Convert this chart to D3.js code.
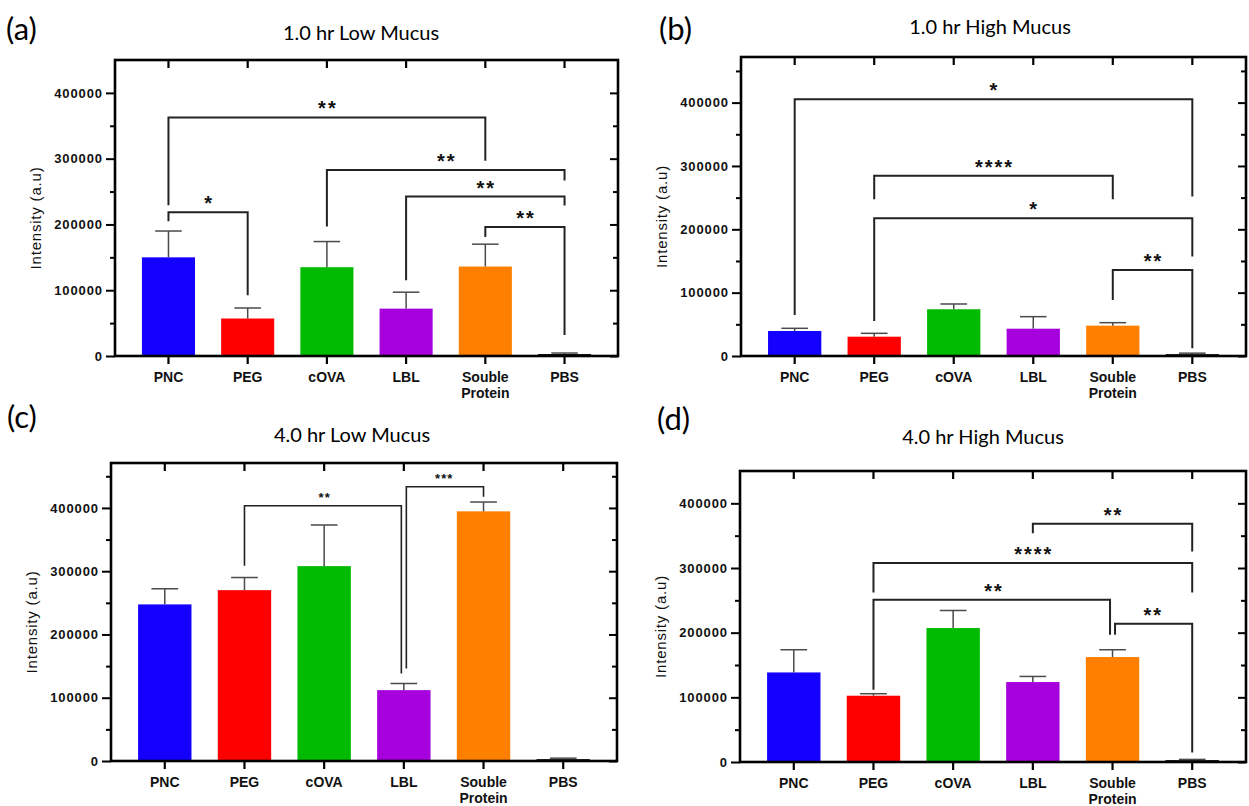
<!DOCTYPE html>
<html>
<head>
<meta charset="utf-8">
<script src="https://cdn.jsdelivr.net/npm/d3@7"></script>
<style>
  body { margin: 0; background: #fff; }
</style>
</head>
<body>
<script>
const categories = ["PNC", "PEG", "cOVA", "LBL", "Souble Protein", "PBS"]
const panelTags = ["(a)", "(b)", "(c)", "(d)"]
const panelTitles = ["1.0 hr Low Mucus", "1.0 hr High Mucus", "4.0 hr Low Mucus", "4.0 hr High Mucus"]
const majorTicks = [0, 100000, 200000, 300000, 400000]

// bar means and SD (upper error only)
const meansA = [150000, 57000, 135000, 72000, 136000, 3000]
const sdA = [40000, 16000, 39000, 25000, 34000, 1500]
const meansB = [39500, 30500, 73800, 43100, 47900, 3000]
const sdB = [4200, 5300, 8300, 19000, 4700, 1500]
const meansC = [247500, 270000, 308000, 112000, 394600, 3000]
const sdC = [24700, 20000, 65000, 10500, 14700, 1500]
const meansD = [138500, 102500, 207100, 123600, 162300, 3000]
const sdD = [35100, 3100, 27200, 8700, 11300, 1000]

// axis tops
const yMaxes = [450000, 472000, 471000, 450000]

// significance brackets: from / to category index, bar height, left & right leg ends
const bracketsA = [
  { from: 0, to: 4, y: 362600, yFrom: 229000, yTo: 297000, label: "**" },
  { from: 2, to: 5, y: 282800, yFrom: 197000, yTo: 266700, label: "**" },
  { from: 3, to: 5, y: 242400, yFrom: 115000, yTo: 228800, label: "**" },
  { from: 4, to: 5, y: 196000, yFrom: 180800, yTo: 31800, label: "**" },
  { from: 0, to: 1, y: 218600, yFrom: 205000, yTo: 92400, label: "*" }
]
const bracketsB = [
  { from: 0, to: 5, y: 405500, yFrom: 64800, yTo: 251700, label: "*" },
  { from: 1, to: 4, y: 284400, yFrom: 247600, yTo: 247600, label: "****" },
  { from: 1, to: 5, y: 217500, yFrom: 55300, yTo: 156900, label: "*" },
  { from: 4, to: 5, y: 135900, yFrom: 88500, yTo: 12200, label: "**" }
]
const bracketsC = [
  { from: 1, to: 3, y: 403500, yFrom: 308500, yTo: 138300, label: "**" },
  { from: 3, to: 4, y: 433500, yFrom: 146200, yTo: 417700, label: "***" }
]
const bracketsD = [
  { from: 3, to: 5, y: 368300, yFrom: 353900, yTo: 325500, label: "**" },
  { from: 1, to: 5, y: 307600, yFrom: 262100, yTo: 262100, label: "****" },
  { from: 1, to: 4, y: 250900, yFrom: 111700, yTo: 196800, label: "**" },
  { from: 4, to: 5, y: 213800, yFrom: 196800, yTo: 14800, label: "**" }
]

const barColors = ["#1400ff", "#ff0000", "#00bb00", "#a600dc", "#ff7f00", "#111111"]
const sansBold = "'Liberation Sans', Arial, sans-serif"

// frame boxes for each panel (pixels)
const layout = [
  { left: 115, right: 618, top: 60, bottom: 356, tagX: 6, tagY: 40, titleX: 361, titleY: 40, starSize: 20, starGap: 2 },
  { left: 741, right: 1246, top: 57, bottom: 356, tagX: 659, tagY: 40, titleX: 990, titleY: 34, starSize: 20, starGap: 2 },
  { left: 111, right: 617, top: 463, bottom: 761, tagX: 7, tagY: 428, titleX: 352, titleY: 442, starSize: 13, starGap: 1 },
  { left: 740, right: 1246, top: 471, bottom: 762, tagX: 657, tagY: 430, titleX: 983, titleY: 444, starSize: 20, starGap: 2 }
]

const panels = [
  { means: meansA, sd: sdA, brackets: bracketsA },
  { means: meansB, sd: sdB, brackets: bracketsB },
  { means: meansC, sd: sdC, brackets: bracketsC },
  { means: meansD, sd: sdD, brackets: bracketsD }
].map((p, i) => ({ ...p, tag: panelTags[i], title: panelTitles[i], yMax: yMaxes[i], box: layout[i] }))

const svg = d3.select("body").append("svg")
    .attr("width", 1249)
    .attr("height", 806)
    .style("font-family", sansBold)

svg.append("rect")
    .attr("width", 1249)
    .attr("height", 806)
    .attr("fill", "#fff")

const drawPanel = p => {
  const b = p.box
  const g = svg.append("g")

  const xScale = d3.scaleBand()
    .domain(categories)
    .range([b.left, b.right])
    .paddingInner(0.33)
    .paddingOuter(0.34)

  const yScale = d3.scaleLinear()
    .domain([0, p.yMax])
    .range([b.bottom, b.top])

  const cx = i => xScale(categories[i]) + xScale.bandwidth() / 2
  const minorTicks = d3.range(50000, p.yMax, 100000)

  // panel tag + title
  g.append("text")
      .attr("x", b.tagX)
      .attr("y", b.tagY)
      .style("font-family", "Lato, 'Open Sans', sans-serif")
      .style("font-size", "31px")
      .text(p.tag)

  g.append("text")
      .attr("x", b.titleX)
      .attr("y", b.titleY)
      .attr("text-anchor", "middle")
      .style("font-family", "Lato, 'Open Sans', sans-serif")
      .style("font-size", "20px")
      .text(p.title)

  // bars
  g.selectAll(".bar")
    .data(p.means)
    .join("rect")
      .attr("class", "bar")
      .attr("x", (d, i) => xScale(categories[i]))
      .attr("y", d => yScale(d))
      .attr("width", xScale.bandwidth())
      .attr("height", d => b.bottom - yScale(d))
      .attr("fill", (d, i) => barColors[i])

  // error bars
  const errs = g.selectAll(".err")
    .data(p.means)
    .join("g")
      .attr("class", "err")
      .attr("stroke", "#4a4a4a")
      .attr("stroke-width", 1.5)
  errs.append("line")
      .attr("x1", (d, i) => cx(i))
      .attr("x2", (d, i) => cx(i))
      .attr("y1", d => yScale(d))
      .attr("y2", (d, i) => yScale(d + p.sd[i]))
  errs.append("line")
      .attr("x1", (d, i) => cx(i) - xScale.bandwidth() / 4)
      .attr("x2", (d, i) => cx(i) + xScale.bandwidth() / 4)
      .attr("y1", (d, i) => yScale(d + p.sd[i]))
      .attr("y2", (d, i) => yScale(d + p.sd[i]))

  // left axis
  g.append("g")
      .attr("transform", `translate(${b.left},0)`)
      .call(d3.axisLeft(yScale).tickValues(majorTicks).tickSize(9).tickPadding(3).tickFormat(d3.format("d")))
      .call(a => a.select(".domain").remove())
      .call(a => a.selectAll(".tick line").attr("stroke-width", 2))
      .call(a => a.selectAll("text")
        .style("font-family", sansBold)
        .style("font-size", "13px")
        .style("font-weight", "bold")
        .style("letter-spacing", "0.9px")
        .attr("fill", "#111"))
  g.append("g")
      .attr("transform", `translate(${b.left},0)`)
      .call(d3.axisLeft(yScale).tickValues(minorTicks).tickSize(5).tickFormat(""))
      .call(a => a.select(".domain").remove())
      .call(a => a.selectAll(".tick line").attr("stroke-width", 2))

  // right axis (inward ticks)
  g.append("g")
      .attr("transform", `translate(${b.right},0)`)
      .call(d3.axisLeft(yScale).tickValues(majorTicks).tickSize(8).tickFormat(""))
      .call(a => a.select(".domain").remove())
      .call(a => a.selectAll(".tick line").attr("stroke-width", 2))
  g.append("g")
      .attr("transform", `translate(${b.right},0)`)
      .call(d3.axisLeft(yScale).tickValues(minorTicks).tickSize(5).tickFormat(""))
      .call(a => a.select(".domain").remove())
      .call(a => a.selectAll(".tick line").attr("stroke-width", 2))

  // bottom axis
  const xAxis = g.append("g")
      .attr("transform", `translate(0,${b.bottom})`)
      .call(d3.axisBottom(xScale).tickSize(8).tickFormat(""))
      .call(a => a.select(".domain").remove())
      .call(a => a.selectAll(".tick line").attr("stroke-width", 2.2))
  xAxis.selectAll(".tick")
    .append("text")
      .attr("fill", "#111")
      .attr("text-anchor", "middle")
      .style("font-family", sansBold)
      .style("font-size", "14px")
      .style("font-weight", "bold")
      .selectAll("tspan")
      .data(d => d.split(" "))
      .join("tspan")
        .attr("x", 0)
        .attr("y", (d, i) => 26 + i * 16)
        .text(d => d)

  // top axis (inward)
  g.append("g")
      .attr("transform", `translate(0,${b.top})`)
      .call(d3.axisTop(xScale).tickSize(-8).tickFormat(""))
      .call(a => a.select(".domain").remove())
      .call(a => a.selectAll(".tick line").attr("stroke-width", 2.2))

  // frame
  g.append("rect")
      .attr("x", b.left)
      .attr("y", b.top)
      .attr("width", b.right - b.left)
      .attr("height", b.bottom - b.top)
      .attr("fill", "none")
      .attr("stroke", "#000")
      .attr("stroke-width", 2.6)

  // y label
  g.append("text")
      .attr("transform", `translate(${b.left - 74},${(b.top + b.bottom) / 2 + 10}) rotate(-90)`)
      .attr("text-anchor", "middle")
      .attr("fill", "#111")
      .style("font-size", "15px")
      .style("letter-spacing", "0.8px")
      .text("Intensity (a.u)")

  // shift legs apart where two brackets meet on the same bar and overlap
  const legX = (br, end) => {
    const idx = end === "from" ? br.from : br.to
    const lo = Math.min(br.y, end === "from" ? br.yFrom : br.yTo)
    const hi = Math.max(br.y, end === "from" ? br.yFrom : br.yTo)
    const clash = p.brackets.some(o => {
      if (o === br) return false
      const oEnd = o.from === idx ? "from" : (o.to === idx ? "to" : null)
      if (!oEnd || oEnd === end) return false
      const olo = Math.min(o.y, oEnd === "from" ? o.yFrom : o.yTo)
      const ohi = Math.max(o.y, oEnd === "from" ? o.yFrom : o.yTo)
      return olo < hi && ohi > lo
    })
    if (!clash) return cx(idx)
    return cx(idx) + (end === "from" ? 2.5 : -2.5)
  }

  const brG = g.selectAll(".bracket")
    .data(p.brackets)
    .join("g")
      .attr("class", "bracket")

  brG.append("path")
      .attr("d", d => {
        const x1 = legX(d, "from")
        const x2 = legX(d, "to")
        return `M${x1},${yScale(d.yFrom)}V${yScale(d.y)}H${x2}V${yScale(d.yTo)}`
      })
      .attr("fill", "none")
      .attr("stroke", "#222")
      .attr("stroke-width", b.starSize > 15 ? 2 : 1.6)

  brG.append("text")
      .attr("x", d => (cx(d.from) + cx(d.to)) / 2 + b.starGap / 2)
      .attr("y", d => yScale(d.y) - (b.starSize > 15 ? 2 : 4))
      .attr("text-anchor", "middle")
      .style("font-size", `${b.starSize}px`)
      .style("font-weight", "bold")
      .style("letter-spacing", `${b.starGap}px`)
      .attr("fill", "#111")
      .text(d => d.label)
}

panels.forEach(drawPanel)
</script>
</body>
</html>
